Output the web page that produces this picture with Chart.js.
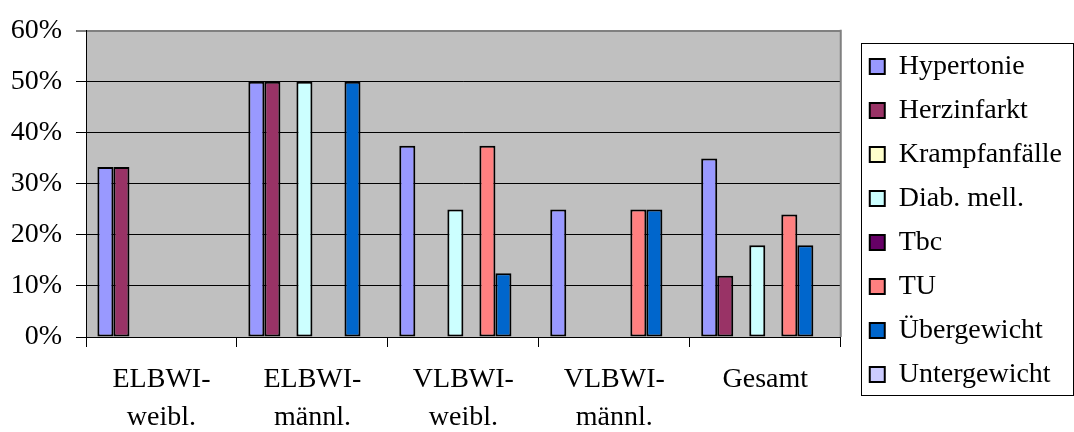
<!DOCTYPE html>
<html>
<head>
<meta charset="utf-8">
<script src="https://cdn.jsdelivr.net/npm/chart.js@4/dist/chart.umd.min.js"></script>
<style>
  html, body { margin: 0; padding: 0; background: #ffffff; overflow: hidden; }
  #wrap { position: relative; width: 1074px; height: 432px; }
  canvas { display: block; }
</style>
</head>
<body>
<div id="wrap"><canvas id="c"></canvas></div>
<script>
// ---- data ----
const categories = [
  ['ELBWI-', 'weibl.'],
  ['ELBWI-', 'männl.'],
  ['VLBWI-', 'weibl.'],
  ['VLBWI-', 'männl.'],
  'Gesamt'
];
const seriesNames = ['Hypertonie', 'Herzinfarkt', 'Krampfanfälle', 'Diab. mell.', 'Tbc', 'TU', 'Übergewicht', 'Untergewicht'];
const hypertonie     = [33.3, 50, 37.5, 25, 35];
const herzinfarkt    = [33.3, 50, null, null, 12];
const krampfanfaelle = [null, null, null, null, null];
const diabMell       = [null, 50, 25, null, 18];
const tbc            = [null, null, null, null, null];
const tu             = [null, null, 37.5, 25, 24];
const uebergewicht   = [null, 50, 12.5, 25, 18];
const untergewicht   = [null, null, null, null, null];
const seriesValues = [hypertonie, herzinfarkt, krampfanfaelle, diabMell, tbc, tu, uebergewicht, untergewicht];
const seriesColors = ['#9999FF', '#993366', '#FFFFCC', '#CCFFFF', '#660066', '#FF8080', '#0066CC', '#CCCCFF'];
const yTicks = { min: 0, max: 60, step: 10, suffix: '%' };

// ---- chart ----
const FAMILY = "'Liberation Serif', 'Times New Roman', serif";
Chart.defaults.font.family = FAMILY;
Chart.defaults.color = '#000000';

const plotBg = {
  id: 'plotBg',
  beforeDraw(chart) {
    const a = chart.chartArea, ctx = chart.ctx;
    ctx.save();
    ctx.fillStyle = '#C0C0C0';
    ctx.fillRect(a.left, a.top, a.right - a.left, a.bottom - a.top);
    ctx.restore();
  },
  afterDatasetsDraw(chart) {
    const a = chart.chartArea, ctx = chart.ctx;
    ctx.save();
    ctx.strokeStyle = '#808080';
    ctx.lineWidth = 2;
    ctx.beginPath();
    ctx.moveTo(a.right, a.top - 1);
    ctx.lineTo(a.right, a.bottom);
    ctx.stroke();
    ctx.restore();
  },
  afterDraw(chart) {
    const lg = chart.legend;
    if (!lg || !lg.legendHitBoxes || !lg.legendHitBoxes.length) return;
    const hb = lg.legendHitBoxes;
    const first = hb[0], last = hb[hb.length - 1];
    const ctx = chart.ctx;
    ctx.save();
    ctx.strokeStyle = '#000000';
    ctx.lineWidth = 1;
    const x0 = Math.round(first.left - 9) + 0.5;
    const y0 = Math.round(first.top - 10) + 0.5;
    const y1 = Math.round(last.top + last.height + 6) + 0.5;
    const x1 = chart.width - 0.5;
    ctx.strokeRect(x0, y0, x1 - x0, y1 - y0);
    ctx.restore();
  }
};

const datasets = seriesNames.map((name, i) => ({
  label: name,
  data: seriesValues[i],
  backgroundColor: seriesColors[i],
  borderColor: '#000000',
  borderWidth: 2,
  borderSkipped: false,
  categoryPercentage: 0.849,
  barPercentage: 1.0
}));

new Chart(document.getElementById('c'), {
  type: 'bar',
  data: { labels: categories, datasets },
  options: {
    responsive: true,
    maintainAspectRatio: false,
    animation: false,
    layout: { padding: { top: 9, bottom: 0, left: 0, right: 2 } },
    plugins: {
      legend: {
        position: 'right',
        maxWidth: 300,
        labels: {
          font: { family: FAMILY, size: 28 },
          color: '#000000',
          boxWidth: 15,
          boxHeight: 15,
          padding: 16
        }
      },
      tooltip: { enabled: false }
    },
    scales: {
      x: {
        grid: { display: true, drawOnChartArea: false, drawTicks: true, tickLength: 10, color: '#000000', offset: true },
        border: { display: true, color: '#000000', width: 1 },
        ticks: { font: { family: FAMILY, size: 28, lineHeight: 1.357 }, color: '#000000', padding: 14, maxRotation: 0, autoSkip: false },
        afterFit(scale) { scale.height = 95; }
      },
      y: {
        min: yTicks.min,
        max: yTicks.max,
        ticks: {
          stepSize: yTicks.step,
          font: { family: FAMILY, size: 28 },
          color: '#000000',
          padding: 14,
          callback: v => v + yTicks.suffix
        },
        grid: {
          tickLength: 10,
          color: ctx => (ctx.tick && ctx.tick.value === yTicks.max) ? '#808080' : '#000000',
          lineWidth: ctx => (ctx.tick && ctx.tick.value === yTicks.max) ? 2 : 1
        },
        border: { display: true, color: '#000000', width: 1 },
        afterFit(scale) { scale.width = 86; }
      },
      gapRight: {
        type: 'linear',
        axis: 'y',
        position: 'right',
        display: true,
        grid: { display: false, drawTicks: false },
        border: { display: false },
        ticks: { display: false },
        afterFit(scale) { scale.width = 13; }
      },
      gapTop: {
        type: 'linear',
        axis: 'x',
        position: 'top',
        display: true,
        grid: { display: false, drawTicks: false },
        border: { display: false },
        ticks: { display: false },
        afterFit(scale) { scale.height = 11; }
      }
    }
  },
  plugins: [plotBg]
});
</script>
</body>
</html>
